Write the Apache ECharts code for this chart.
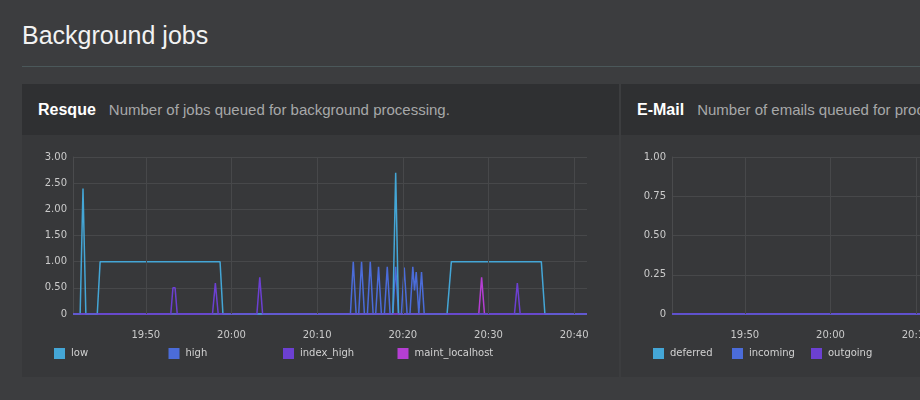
<!DOCTYPE html>
<html>
<head>
<meta charset="utf-8">
<script src="https://cdn.jsdelivr.net/npm/echarts@6/dist/echarts.min.js"></script>
<style>
  html, body { margin: 0; padding: 0; }
  body {
    width: 920px; height: 400px; overflow: hidden;
    background: #3c3d3f; position: relative;
    font-family: "Liberation Sans", Arial, sans-serif;
  }
  h1 {
    position: absolute; left: 22px; top: 21px; margin: 0;
    font-size: 25px; font-weight: normal; color: #f2f2f2;
  }
  .rule { position: absolute; left: 22px; top: 66px; width: 898px; height: 1px; background: #4b585a; }
  .panel { position: absolute; top: 84px; width: 597px; height: 293px; background: #37383a; }
  .panel-head {
    height: 51px; background: #2f3032; box-sizing: border-box;
    padding: 17px 0 0 16px; white-space: nowrap;
  }
  .panel-head b { font-size: 16px; color: #ffffff; margin-right: 13px; }
  .panel-head span { font-size: 15px; color: #a7a8a9; }
  .chart { position: absolute; left: 0; top: 51px; width: 597px; height: 242px; }
</style>
</head>
<body>
<h1>Background jobs</h1>
<div class="rule"></div>
<div class="panel" style="left:22px">
  <div class="panel-head"><b>Resque</b><span>Number of jobs queued for background processing.</span></div>
  <div class="chart" id="resqueChart"></div>
</div>
<div class="panel" style="left:621px">
  <div class="panel-head"><b>E-Mail</b><span>Number of emails queued for processing.</span></div>
  <div class="chart" id="mailChart"></div>
</div>
<script>
const DAY = "2016-03-01T";
const START = "19:41:30";
const END = "20:41:30";
// vertical grid lines / labelled times
const xGridTimes = ["19:50:00", "20:00:00", "20:10:00", "20:20:00", "20:30:00", "20:40:00"];

// Resque queues
const resqueNames = ["low", "high", "index_high", "maint_localhost"];
const resqueColors = ["#44a6d6", "#4b6cd9", "#6c40d2", "#b53ed3"];

const lowTimes = ["19:41:30", "19:42:20", "19:42:40", "19:43:00", "19:44:20", "19:44:40", "19:58:40", "19:59:00",
  "20:18:50", "20:19:10", "20:19:30", "20:25:10", "20:25:40", "20:36:10", "20:36:35", "20:41:30"];
const lowValues = [0, 0, 2.4, 0, 0, 1, 1, 0, 0, 2.7, 0, 0, 1, 1, 0, 0];

const highTimes = ["19:41:30",
  "20:13:53", "20:14:13", "20:14:33",
  "20:14:51", "20:15:11", "20:15:31",
  "20:15:52", "20:16:12", "20:16:32",
  "20:16:50", "20:17:10", "20:17:30",
  "20:17:51", "20:18:11", "20:18:31",
  "20:18:50", "20:19:10", "20:19:30",
  "20:19:50", "20:20:10", "20:20:30",
  "20:20:50", "20:21:10", "20:21:22", "20:21:34", "20:21:52",
  "20:22:11", "20:22:30",
  "20:41:30"];
const highValues = [0,
  0, 1.0, 0,
  0, 1.0, 0,
  0, 1.0, 0,
  0, 0.9, 0,
  0, 0.9, 0,
  0, 0.9, 0,
  0, 0.89, 0,
  0, 0.9, 0.45, 0.8, 0,
  0.8, 0,
  0];

const indexHighTimes = ["19:41:30", "19:52:55", "19:53:10", "19:53:25", "19:53:40",
  "19:57:47", "19:58:07", "19:58:27", "20:02:58", "20:03:18", "20:03:38",
  "20:33:02", "20:33:22", "20:33:42", "20:41:30"];
const indexHighValues = [0, 0, 0.5, 0.5, 0, 0, 0.59, 0, 0, 0.7, 0, 0, 0.59, 0, 0];

const maintTimes = ["19:41:30", "20:28:52", "20:29:12", "20:29:32", "20:41:30"];
const maintValues = [0, 0, 0.7, 0, 0];

// E-Mail queues (all empty)
const mailNames = ["deferred", "incoming", "outgoing"];
const mailColors = ["#44a6d6", "#4b6cd9", "#6c40d2"];
const mailTimes = ["19:41:30", "20:41:30"];
const mailValues = [0, 0];

const GRID_COLOR = "#47484a";
const LABEL_COLOR = "#cacaca";

function ts(t) {
  return new Date(DAY + t).getTime();
}

function pairs(times, values) {
  return times.map((t, i) => [ts(t), values[i]]);
}

function buildOption(names, colors, seriesData, yMax, yStep, legendSpan, drawOrder) {
  const series = drawOrder.map((i) => ({
    name: names[i],
    type: "line",
    data: seriesData[i],
    showSymbol: false,
    color: colors[i],
    lineStyle: { width: 1.5, color: colors[i] },
    z: 3,
  }));
  // grid lines every 10 minutes, drawn behind the data
  series.push({
    type: "line",
    data: [],
    silent: true,
    z: 1,
    markLine: {
      silent: true,
      symbol: "none",
      label: { show: false },
      lineStyle: { color: GRID_COLOR, type: "solid", width: 1 },
      data: xGridTimes.map((t) => ({ xAxis: ts(t) })),
    },
  });

  // one legend per item so every entry sits in an equal-width column
  const legend = names.map((n, i) => ({
    data: [{ name: n, itemStyle: { color: colors[i] } }],
    left: 32 + i * legendSpan,
    top: 213,
    padding: 0,
    icon: "rect",
    itemWidth: 11,
    itemHeight: 11,
    itemGap: 0,
    textStyle: { color: "#d2d2d2", fontSize: 10, fontFamily: "DejaVu Sans", padding: [0, 0, 0, 1] },
  }));

  return {
    animation: false,
    grid: { left: 51, top: 22, right: 32, bottom: 63 },
    legend,
    xAxis: {
      type: "time",
      min: ts(START),
      max: ts(END),
      axisLine: { show: false },
      axisTick: { show: false },
      axisLabel: {
        color: LABEL_COLOR,
        fontSize: 10,
        fontFamily: "DejaVu Sans",
        margin: 16,
        hideOverlap: false,
        formatter: (v) => {
          const d = new Date(v);
          if (d.getSeconds() !== 0 || d.getMinutes() % 10 !== 0) return "";
          return echarts.time.format(v, "{HH}:{mm}", false);
        },
      },
      splitLine: { show: false },
    },
    yAxis: {
      type: "value",
      min: 0,
      max: yMax,
      interval: yStep,
      axisLine: { show: true, lineStyle: { color: "#4a4b4d" } },
      axisTick: { show: false },
      axisLabel: {
        color: LABEL_COLOR,
        fontSize: 10,
        fontFamily: "DejaVu Sans",
        margin: 6,
        formatter: (v) => (v === 0 ? "0" : v.toFixed(2)),
      },
      splitLine: { lineStyle: { color: GRID_COLOR, width: 1 } },
    },
    series,
  };
}

const resqueChart = echarts.init(document.getElementById("resqueChart"));
resqueChart.setOption(
  buildOption(
    resqueNames,
    resqueColors,
    [
      pairs(lowTimes, lowValues),
      pairs(highTimes, highValues),
      pairs(indexHighTimes, indexHighValues),
      pairs(maintTimes, maintValues),
    ],
    3,
    0.5,
    114.5,
    [3, 1, 0, 2]
  )
);

const mailChart = echarts.init(document.getElementById("mailChart"));
mailChart.setOption(
  buildOption(
    mailNames,
    mailColors,
    mailNames.map(() => pairs(mailTimes, mailValues)),
    1,
    0.25,
    79,
    [0, 1, 2]
  )
);
</script>
</body>
</html>
